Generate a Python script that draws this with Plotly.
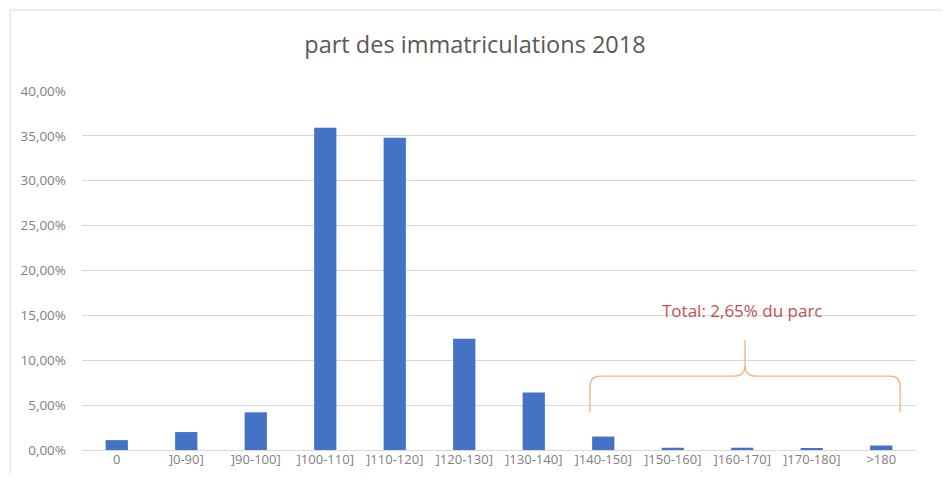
import plotly.graph_objects as go

categories = ["0", "]0-90]", "]90-100]", "]100-110]", "]110-120]", "]120-130]",
              "]130-140]", "]140-150]", "]150-160]", "]160-170]", "]170-180]", ">180"]
shares = [0.011, 0.020, 0.042, 0.359, 0.348, 0.124, 0.064, 0.015, 0.0025, 0.0025, 0.0015, 0.005]
y_ticks = [0, 0.05, 0.10, 0.15, 0.20, 0.25, 0.30, 0.35, 0.40]
title_text = "part des immatriculations 2018"
note_text = "Total: 2,65% du parc"

fig = go.Figure(go.Bar(x=categories, y=shares, marker_color="#4472C4",
                       marker_line_width=0, hoverinfo="skip"))

font_fam = "Open Sans, Liberation Sans, sans-serif"
W, H = 934, 466
fig.update_layout(
    width=W, height=H,
    margin=dict(l=74, r=26, t=83, b=24, autoexpand=False),
    paper_bgcolor="white", plot_bgcolor="white",
    separators=", ",
    bargap=0.68,
    showlegend=False,
    title=dict(text=title_text, x=0.5, xanchor="center", y=1 - 37/H, yanchor="middle",
               font=dict(family=font_fam, size=23.5, color="#595959")),
    font=dict(family=font_fam, color="#595959"),
)
fig.update_xaxes(type="category", showgrid=False, showline=False, ticks="",
                 tickangle=0, tickfont=dict(size=13, color="#7f7f7f"))
fig.update_yaxes(range=[0, 0.40], tickvals=y_ticks, tickformat=".2%",
                 showgrid=True, gridcolor="#d9d9d9", gridwidth=1, zeroline=True,
                 zerolinecolor="#d9d9d9", zerolinewidth=1, showline=False, ticks="",
                 tickfont=dict(size=13.5, color="#7f7f7f"), ticklabelstandoff=15)

# brace
x0, xm, x1 = 0.609, 0.795, 0.981
yl, ye, yt = 0.206, 0.105, 0.306
r = 0.012
path = (f"M {x0},{ye} L {x0},{yl-0.03} Q {x0},{yl} {x0+r},{yl} "
        f"L {xm-r},{yl} Q {xm},{yl} {xm},{yl+0.03} L {xm},{yt} "
        f"M {xm},{yl+0.03} Q {xm},{yl} {xm+r},{yl} "
        f"L {x1-r},{yl} Q {x1},{yl} {x1},{yl-0.03} L {x1},{ye}")
fig.add_shape(type="path", path=path, xref="paper", yref="paper",
              line=dict(color="#F4B183", width=1.3))
fig.add_annotation(text=note_text, xref="paper", yref="paper", x=(742-82)/834, y=(450-310)/359,
                   xanchor="center", yanchor="middle",
                   showarrow=False, font=dict(size=17, color="#C0504D", family=font_fam))

# chart border
fig.add_shape(type="rect", xref="paper", yref="paper",
              x0=(10-82)/834, x1=(948-82)/834, y0=(450-480)/359, y1=(450-10)/359,
              line=dict(color="#d9d9d9", width=1), layer="below")

fig.write_html("out.html")
